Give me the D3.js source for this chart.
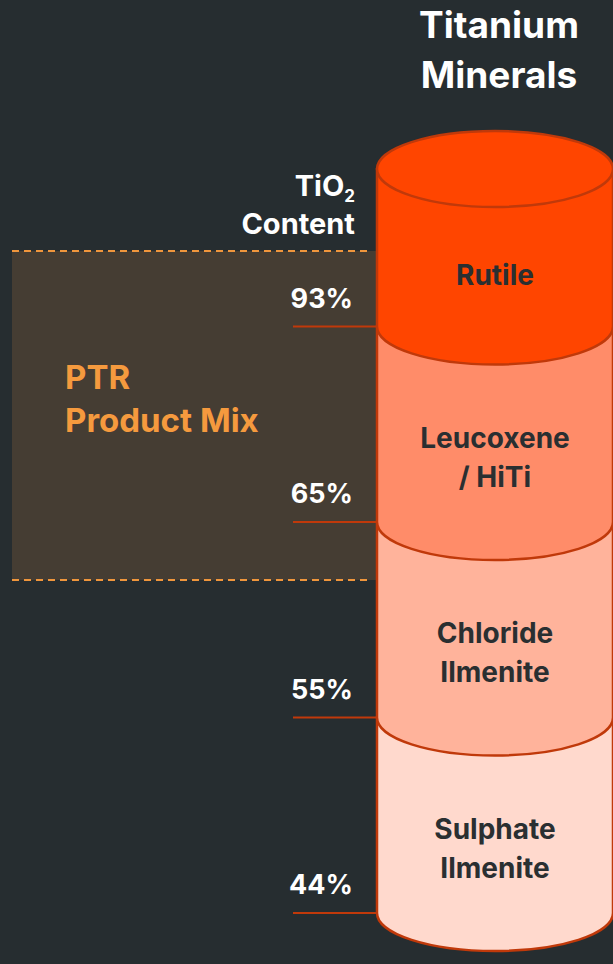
<!DOCTYPE html>
<html>
  <head>
    <style>
      body { margin: 0; background: #262d30; }
      svg { display: block; font-family: Inter, "Open Sans", sans-serif; font-weight: 700; }
    </style>
  </head>
  <body>
    <svg class="chart"></svg>

    <script src="https://d3js.org/d3.v7.min.js"></script>
    <script>
      // minerals, top to bottom of the cylinder
      var minerals = ["Rutile", "Leucoxene", "Chloride Ilmenite", "Sulphate Ilmenite"];
      var mineralLines = [["Rutile"], ["Leucoxene", "/ HiTi"], ["Chloride", "Ilmenite"], ["Sulphate", "Ilmenite"]];
      var tio2 = [93, 65, 55, 44];
      var fills = ["#ff4500", "#ff8c69", "#ffb39b", "#ffd9cd"];
      var productMix = ["Rutile", "Leucoxene"]; // PTR products

      var width = 613, height = 964;
      var cx = 495, rx = 118, ry = 38;
      var edge = "#c0390a";

      var svg = d3.select(".chart").attr("width", width).attr("height", height);

      var y = d3.scaleBand().domain(minerals).range([131, 913]).padding(0);
      var bw = y.bandwidth();

      // PTR product mix box
      var boxTop = y(productMix[0]) + 120;
      var boxBot = y(productMix[productMix.length - 1]) + bw + 58;
      svg.append("rect")
        .attr("x", 12).attr("y", boxTop)
        .attr("width", cx - rx - 12).attr("height", boxBot - boxTop)
        .attr("fill", "#453d33");
      [boxTop, boxBot].forEach(function (yy) {
        svg.append("line")
          .attr("x1", 12).attr("x2", cx - rx - 6)
          .attr("y1", yy).attr("y2", yy)
          .attr("stroke", "#f0963c").attr("stroke-width", 2)
          .attr("stroke-dasharray", "7,5");
      });
      svg.append("text")
        .attr("x", 65).attr("y", 389)
        .attr("fill", "#f59a3e").attr("font-size", 33)
        .selectAll("tspan").data(["PTR", "Product Mix"]).enter().append("tspan")
        .attr("x", 65).attr("dy", function (d, i) { return i ? 43 : 0; })
        .text(function (d) { return d; });

      // cylinder segments, drawn bottom first so upper ones overlap
      var segs = minerals.map(function (m, i) {
        return { name: m, i: i, top: i === 0 ? y(m) + ry : y(m), bot: y(m) + bw };
      });
      svg.selectAll("path.seg")
        .data(segs.slice().reverse())
        .enter().append("path")
        .attr("class", "seg")
        .attr("d", function (d) {
          return "M" + (cx - rx) + "," + d.top +
            "L" + (cx - rx) + "," + d.bot +
            "A" + rx + "," + ry + " 0 0 0 " + (cx + rx) + "," + d.bot +
            "L" + (cx + rx) + "," + d.top + "Z";
        })
        .attr("fill", function (d) { return fills[d.i]; })
        .attr("stroke", edge).attr("stroke-width", 2.5);
      // top cap
      svg.append("ellipse")
        .attr("cx", cx).attr("cy", y(minerals[0]) + ry)
        .attr("rx", rx).attr("ry", ry)
        .attr("fill", fills[0]).attr("stroke", edge).attr("stroke-width", 2.5);

      // mineral labels
      svg.selectAll("text.min")
        .data(segs)
        .enter().append("text")
        .attr("class", "min")
        .attr("text-anchor", "middle")
        .attr("fill", "#2a2f31").attr("font-size", 28)
        .each(function (d) {
          var lines = mineralLines[d.i];
          var mid = y(d.name) + bw / 2 + (d.i === 0 ? 46 : 33);
          d3.select(this).selectAll("tspan").data(lines).enter().append("tspan")
            .attr("x", cx)
            .attr("y", function (l, k) { return mid + 10 + (k - (lines.length - 1) / 2) * 39; })
            .text(function (l) { return l; });
        });

      // TiO2 ticks
      svg.selectAll("line.tick")
        .data(segs)
        .enter().append("line")
        .attr("class", "tick")
        .attr("x1", 293).attr("x2", cx - rx)
        .attr("y1", function (d) { return d.bot; })
        .attr("y2", function (d) { return d.bot; })
        .attr("stroke", edge).attr("stroke-width", 2.2);
      svg.selectAll("text.pct")
        .data(segs)
        .enter().append("text")
        .attr("class", "pct")
        .attr("x", 353).attr("y", function (d) { return d.bot - 19; })
        .attr("text-anchor", "end")
        .attr("fill", "#ffffff").attr("font-size", 27)
        .text(function (d) { return tio2[d.i] + "%"; });

      // TiO2 header
      var hdr = svg.append("text")
        .attr("x", 355).attr("y", 196)
        .attr("text-anchor", "end")
        .attr("fill", "#ffffff").attr("font-size", 29);
      hdr.append("tspan").text("TiO");
      hdr.append("tspan").attr("font-size", 17).attr("dy", 6).text("2");
      svg.append("text")
        .attr("x", 355).attr("y", 234)
        .attr("text-anchor", "end")
        .attr("fill", "#ffffff").attr("font-size", 29)
        .text("Content");

      // title
      svg.append("text")
        .attr("text-anchor", "middle")
        .attr("fill", "#ffffff").attr("font-size", 37)
        .selectAll("tspan").data(["Titanium", "Minerals"]).enter().append("tspan")
        .attr("x", 499).attr("y", function (d, i) { return 38 + i * 50; })
        .text(function (d) { return d; });
    </script>
  </body>
</html>
